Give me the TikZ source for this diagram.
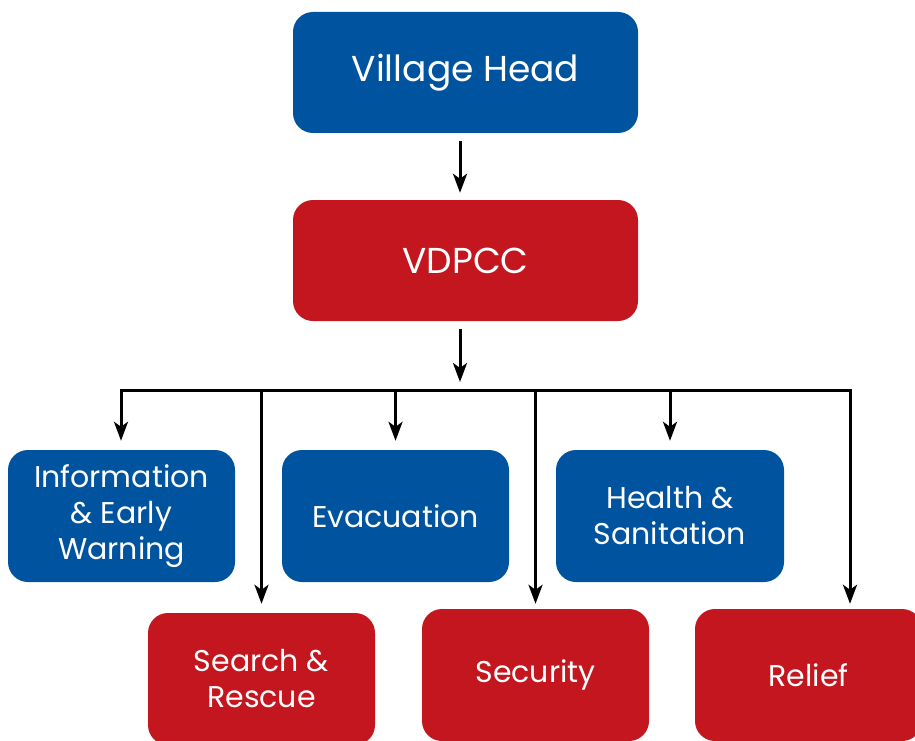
\documentclass[tikz,border=0pt]{standalone}
\usepackage{fontspec}
\setmainfont{Poppins}
\usetikzlibrary{arrows.meta}
\definecolor{cblue}{RGB}{0,83,158}
\definecolor{cred}{RGB}{196,22,30}
\tikzset{
  box/.style={rounded corners=20pt, minimum height=121pt, text=white, align=center, inner sep=0pt},
  bluebox/.style={box, fill=cblue},
  redbox/.style={box, fill=cred},
  bigtext/.style={font=\fontsize{36}{42}\selectfont},
  smalltext/.style={font=\fontsize{30}{36}\selectfont},
  arr/.style={line width=3pt, -{Stealth[length=19pt,width=14pt,inset=5pt]}},
  ln/.style={line width=3pt}
}
\begin{document}
\begin{tikzpicture}[x=1pt,y=-1pt]
\clip (0,0) rectangle (915,741);
\fill[white] (0,0) rectangle (915,741);
\node[bluebox, bigtext, minimum width=345pt] (vh) at (465.5,72.5) {Village Head};
\node[redbox, bigtext, minimum width=345pt] (vd) at (465.5,260.5) {VDPCC};
\node[bluebox, smalltext, minimum width=227pt, minimum height=132pt] (info) at (121.5,516) {Information\\\& Early\\Warning};
\node[bluebox, smalltext, minimum width=227pt, minimum height=132pt] (evac) at (395.5,516) {Evacuation};
\node[bluebox, smalltext, minimum width=228pt, minimum height=132pt] (health) at (670,516) {Health \&\\Sanitation};
\node[redbox, smalltext, minimum width=227pt, minimum height=132pt] (sr) at (261.5,679) {Search \&\\Rescue};
\node[redbox, smalltext, minimum width=227pt, minimum height=132pt] (sec) at (535.5,675) {Security};
\node[redbox, smalltext, minimum width=227pt, minimum height=132pt] (rel) at (808.5,675) {Relief};
\coordinate (hub) at (460,382);
\coordinate (barL) at (121,390);
\coordinate (barR) at (850,390);
\draw[arr] ([xshift=-5.5pt,yshift=-8pt]vh.south) -- ([xshift=-5.5pt,yshift=7pt]vd.north);
\draw[arr] ([xshift=-5.5pt,yshift=-8pt]vd.south) -- (hub);
\draw[ln, line cap=rect] (barL) -- (barR);
\draw[arr] (barL) -- ([yshift=9pt]info.north -| barL);
\draw[arr] (sr.north |- barL) -- ([yshift=9pt]sr.north);
\draw[arr] (evac.north |- barL) -- ([yshift=9pt]evac.north);
\draw[arr] (sec.north |- barL) -- ([yshift=5pt]sec.north);
\draw[arr] (health.north |- barL) -- ([yshift=9pt]health.north);
\draw[arr] (barR) -- ([yshift=5pt]rel.north -| barR);
\end{tikzpicture}
\end{document}
